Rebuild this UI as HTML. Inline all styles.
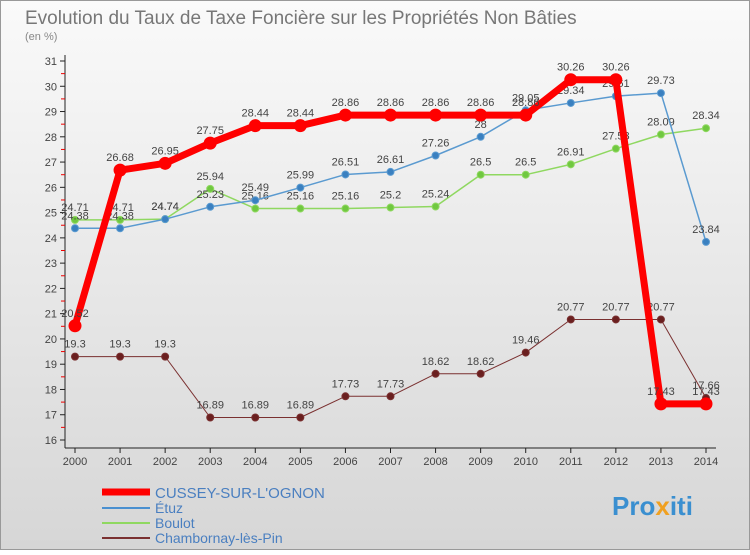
<!DOCTYPE html>
<html><head><meta charset="utf-8"><style>
body{margin:0;width:750px;height:550px;overflow:hidden;font-family:"Liberation Sans",sans-serif;}
</style></head><body>
<svg id="c" width="750" height="550" xmlns="http://www.w3.org/2000/svg">
<defs><linearGradient id="bg" x1="0" y1="0" x2="0" y2="1"><stop offset="0" stop-color="#fafafa"/><stop offset="1" stop-color="#d6d6d6"/></linearGradient></defs>
<rect width="750" height="550" fill="url(#bg)"/>
<rect x="0.5" y="0.5" width="749" height="549" fill="none" stroke="#999"/>
<text x="25" y="24" font-size="19" fill="#777">Evolution du Taux de Taxe Foncière sur les Propriétés Non Bâties</text>
<text x="25" y="40" font-size="11" fill="#888">(en %)</text>
<g id="axes"></g><g id="series"></g>
<g>
<line x1="102" y1="492" x2="150" y2="492" stroke="#f00" stroke-width="7"/>
<text x="155" y="498" font-size="15" fill="#4a7fc0">CUSSEY-SUR-L'OGNON</text>
<line x1="102" y1="508" x2="150" y2="508" stroke="#4a90d0" stroke-width="2"/>
<text x="155" y="513" font-size="14" fill="#4a7fc0">Étuz</text>
<line x1="102" y1="523" x2="150" y2="523" stroke="#8fd860" stroke-width="2"/>
<text x="155" y="528" font-size="14" fill="#4a7fc0">Boulot</text>
<line x1="102" y1="538" x2="150" y2="538" stroke="#7a3030" stroke-width="2"/>
<text x="155" y="543" font-size="14" fill="#4a7fc0">Chambornay-lès-Pin</text>
</g>
<text x="612" y="515" font-size="26" font-weight="bold" fill="#3a8fd0">Pro<tspan fill="#f0a020">x</tspan>iti</text>
</svg>
<script>
const years=[2000,2001,2002,2003,2004,2005,2006,2007,2008,2009,2010,2011,2012,2013,2014];
const yTicks=[16,17,18,19,20,21,22,23,24,25,26,27,28,29,30,31];
const cussey=[20.52,26.68,26.95,27.75,28.44,28.44,28.86,28.86,28.86,28.86,28.86,30.26,30.26,17.43,17.43];
const etuz=[24.38,24.38,24.74,25.23,25.49,25.99,26.51,26.61,27.26,28,29.05,29.34,29.61,29.73,23.84];
const boulot=[24.71,24.71,24.74,25.94,25.16,25.16,25.16,25.2,25.24,26.5,26.5,26.91,27.53,28.09,28.34];
const chambornay=[19.3,19.3,19.3,16.89,16.89,16.89,17.73,17.73,18.62,18.62,19.46,20.77,20.77,20.77,17.66];
const NS="http://www.w3.org/2000/svg";
const xS=i=>75+i*(706-75)/14;
const yS=v=>440-(v-16)*(440-61)/15;
function mk(t,a,p){const e=document.createElementNS(NS,t);for(const k in a)e.setAttribute(k,a[k]);p.appendChild(e);return e;}
const ax=document.getElementById('axes');
const yl=mk('line',{x1:65,y1:55,x2:65,y2:448,stroke:'#222'},ax);


const xl=mk('line',{x1:65,y1:448,x2:716,y2:448,stroke:'#222'},ax);


yTicks.forEach(v=>{
 mk('line',{x1:60,y1:yS(v),x2:65,y2:yS(v),stroke:'#222'},ax);
 if(v<31)mk('line',{x1:61,y1:yS(v+0.5),x2:65,y2:yS(v+0.5),stroke:'#e00'},ax);
 const t=mk('text',{x:57,y:yS(v)+4,'font-size':11,fill:'#444','text-anchor':'end'},ax);t.textContent=v;
 
 
});
years.forEach((y,i)=>{
 mk('line',{x1:xS(i),y1:448,x2:xS(i),y2:453,stroke:'#222'},ax);
 const t=mk('text',{x:xS(i),y:465,'font-size':11,fill:'#444','text-anchor':'middle'},ax);t.textContent=y;
 
 
});
const sg=document.getElementById('series');
function draw(data,name,color,w,r,dot){
 const g=mk('g',{},sg);
 
 
 const p=mk('polyline',{points:data.map((v,i)=>xS(i)+','+yS(v)).join(' '),fill:'none',stroke:color,'stroke-width':w,'stroke-linejoin':'round'},g);
 
 
 data.forEach((v,i)=>{
  const c=mk('circle',{cx:xS(i),cy:yS(v),r:r,fill:dot,stroke:color,'stroke-width':1},g);
  
  
  const t=mk('text',{x:xS(i),y:yS(v)-9,'font-size':11,fill:'#444','text-anchor':'middle'},g);t.textContent=v;
  
  
 });
}
draw(chambornay,'chambornay','#7a3030',1,3.5,'#6a1f1f');
draw(boulot,'boulot','#8fd860',1.5,3.5,'#70c840');
draw(etuz,'etuz','#5a9ad0',1.5,3.5,'#3a80c0');
draw(cussey,'cussey','#f00',7,6,'#f00');
</script>
</body></html>
